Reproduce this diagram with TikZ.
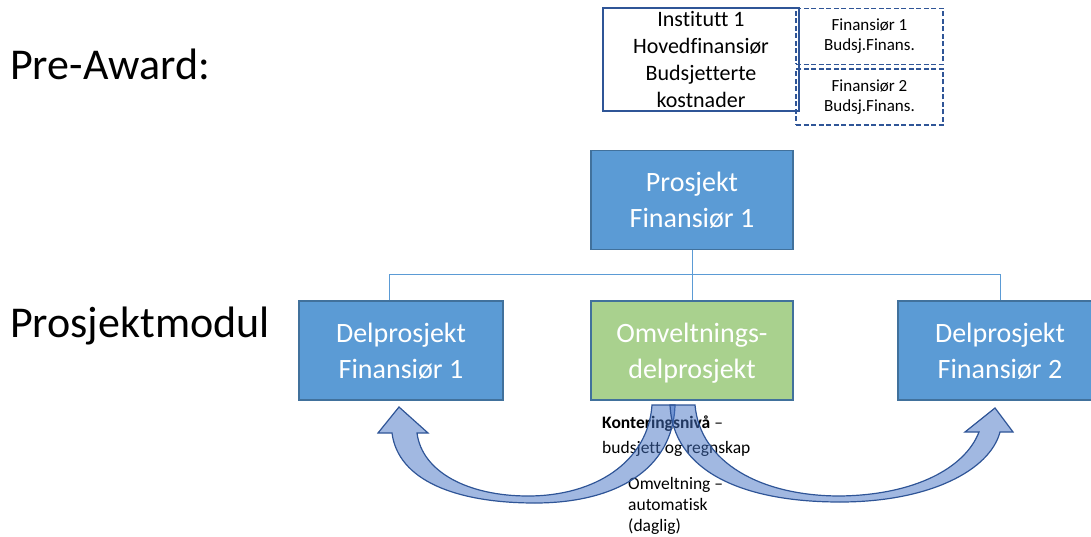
\documentclass[tikz,border=0pt]{standalone}
\usepackage{fontspec}
\setmainfont[Ligatures=NoCommon]{Carlito}
\definecolor{boxblue}{HTML}{5B9BD5}
\definecolor{boxedge}{HTML}{41719C}
\definecolor{boxgreen}{HTML}{A9D18E}
\definecolor{navy}{HTML}{2F5597}
\definecolor{arrowfill}{HTML}{4472C4}
\tikzset{
	side/.style={anchor=base west,inner sep=0pt,font=\fontsize{44}{52}\selectfont},
	blk/.style 2 args={rectangle,draw=boxedge,line width=1.2pt,fill=#1,text=white,minimum width=#2,minimum height=99pt,inner sep=0pt,text depth=0pt,align=center,font=\fontsize{28}{36}\selectfont},
	solidbox/.style={rectangle,draw=navy,line width=1.5pt,minimum width=196pt,minimum height=103pt,inner sep=0pt,align=center,font=\fontsize{22}{26.7}\selectfont},
	dashbox/.style={rectangle,draw=navy,line width=1.5pt,dash pattern=on 5pt off 2.5pt,minimum width=147pt,minimum height=56pt,inner sep=0pt,align=center,font=\fontsize{17}{20}\selectfont},
	link/.style={draw=boxblue,line width=0.8pt},
	note/.style 2 args={anchor=west,inner sep=0pt,align=left,font=\fontsize{#1}{#2}\selectfont},
	bigarrow/.style={draw=navy,line width=1.2pt,fill=arrowfill,fill opacity=0.5}
}
\begin{document}
\begin{tikzpicture}[x=1pt,y=-1pt]
	\useasboundingbox (0,0) rectangle (1091,537);
	\node [side] (pre) at (10,80) {Pre-Award:};
	\node [side] (modul) at (10,337) {Prosjektmodul};

	\node [dashbox] (fin1) at (869.5,36.5) {Finansiør 1\\Budsj.Finans.};
	\node [dashbox] (fin2) at (869.5,97) {Finansiør 2\\Budsj.Finans.};
	\node [solidbox] (inst) at (701,59.5) {Institutt 1\\Hovedfinansiør\\Budsjetterte\\kostnader};

	\node [blk={boxblue}{202pt}] (top) at (692,200) {Prosjekt\\Finansiør 1};
	\node [blk={boxblue}{204pt}] (dpa) at (401,350.5) {Delprosjekt\\Finansiør 1};
	\node [blk={boxgreen}{202pt}] (mid) at (692,350.5) {Omveltnings-\\delprosjekt};
	\node [blk={boxblue}{204pt}] (dpb) at (1000,350.5) {Delprosjekt\\Finansiør 2};

	\coordinate (bus) at (0,274);
	\draw [link] (top.south) -- (mid.north);
	\draw [link] ([xshift=-12pt]dpa.north) |- (bus -| dpb.north) -- (dpb.north);

	\node [note={17.5}{25}] (kont) at (602,436) {\textbf{Konteringsnivå} –\\budsjett og regnskap};
	\node [note={17.5}{21}] (omv) at (628,506) {Omveltning –\\automatisk\\(daglig)};

	\filldraw [bigarrow] (675,405) .. controls (673,470) and (615,503) .. (535,503) .. controls (455,503) and (398,480) .. (392,433) -- (378,433) -- (399,407) -- (428,433) -- (417,433) .. controls (422,472) and (468,496) .. (528,496) .. controls (595,496) and (648,462) .. (652,405) -- cycle;
	\filldraw [bigarrow] (670,405) .. controls (673,470) and (740,502) .. (840,502) .. controls (930,502) and (990,470) .. (1000,432) -- (1013,432) -- (995,408) -- (965,432) -- (979,432) .. controls (965,468) and (915,495) .. (840,496) .. controls (760,496) and (700,462) .. (695,405) -- cycle;
\end{tikzpicture}
\end{document}
